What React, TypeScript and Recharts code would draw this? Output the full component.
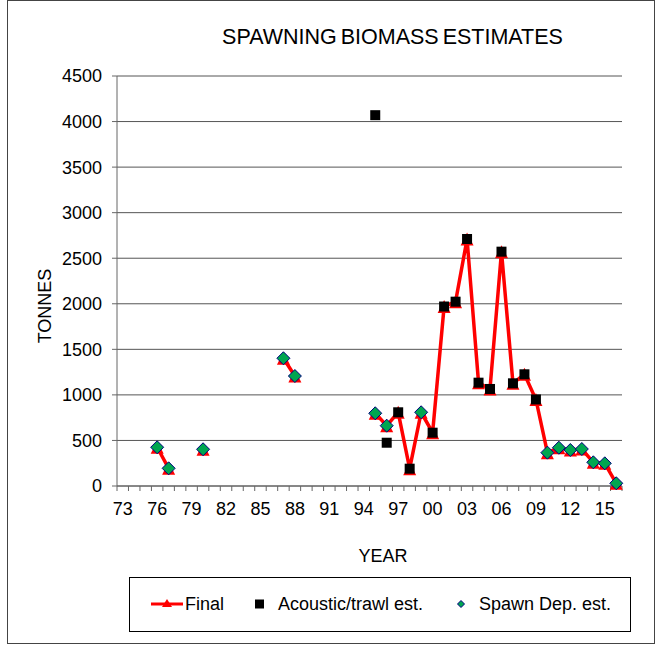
import React from 'react';
import { ComposedChart, Line, XAxis, YAxis, CartesianGrid } from 'recharts';

// years on the category axis
const FIRST_YEAR = 1973;
const LAST_YEAR = 2016;
const LABEL_YEARS = [1973, 1976, 1979, 1982, 1985, 1988, 1991, 1994, 1997, 2000, 2003, 2006, 2009, 2012, 2015];
const Y_TICKS = [0, 500, 1000, 1500, 2000, 2500, 3000, 3500, 4000, 4500];

const FINAL_YEARS = [1976, 1977, 1980, 1987, 1988, 1995, 1996, 1997, 1998, 1999, 2000, 2001, 2002, 2003, 2004, 2005, 2006, 2007, 2008, 2009, 2010, 2011, 2012, 2013, 2014, 2015, 2016];
const FINAL_VALUES = [425, 194, 403, 1402, 1207, 798, 662, 809, 190, 809, 585, 1970, 2023, 2711, 1134, 1065, 2572, 1127, 1226, 950, 366, 420, 395, 406, 260, 249, 30];

const ACOUSTIC_YEARS = [1995, 1996, 1997, 1998, 2000, 2001, 2002, 2003, 2004, 2005, 2006, 2007, 2008, 2009];
const ACOUSTIC_VALUES = [4070, 475, 809, 190, 585, 1970, 2023, 2711, 1134, 1065, 2572, 1127, 1226, 950];

const SPAWN_YEARS = [1976, 1977, 1980, 1987, 1988, 1995, 1996, 1999, 2010, 2011, 2012, 2013, 2014, 2015, 2016];
const SPAWN_VALUES = [425, 194, 403, 1402, 1207, 798, 662, 809, 366, 420, 395, 406, 260, 249, 30];

const pick = (years: number[], values: number[], yr: number) => {
  const i = years.indexOf(yr);
  return i < 0 ? null : values[i];
};

const data: any[] = [];
for (let yr = FIRST_YEAR; yr <= LAST_YEAR; yr++) {
  data.push({
    year: yr,
    final: pick(FINAL_YEARS, FINAL_VALUES, yr),
    acoustic: pick(ACOUSTIC_YEARS, ACOUSTIC_VALUES, yr),
    spawn: pick(SPAWN_YEARS, SPAWN_VALUES, yr),
  });
}
// tick marks sit between the categories, like Excel
const boundaryTicks: number[] = [];
for (let yr = FIRST_YEAR; yr <= LAST_YEAR + 1; yr++) boundaryTicks.push(yr - 0.5);

const W = 657;
const H = 645;
const PLOT_LEFT = 117;
const PLOT_RIGHT = 622;
const PLOT_TOP = 76;
const PLOT_BOTTOM = 486;
const X_AXIS_H = 30;
const HALF_STEP = (PLOT_RIGHT - PLOT_LEFT) / (LAST_YEAR - FIRST_YEAR + 1) / 2;

const FONT = '"Liberation Sans", Arial, sans-serif';
const GREEN = '#00a650';
const NAVY = '#000080';

const Triangle = (props: any) => {
  const { cx, cy, value, index } = props;
  if (value == null || cy == null) return <g key={'t' + index} />;
  const s = 6.5;
  return (
    <polygon
      key={'t' + index}
      points={`${cx},${cy - s} ${cx + s},${cy + s} ${cx - s},${cy + s}`}
      fill="#ff0000"
    />
  );
};

const Square = (props: any) => {
  const { cx, cy, value, index } = props;
  if (value == null || cy == null) return <g key={'s' + index} />;
  return <rect key={'s' + index} x={cx - 5} y={cy - 5} width={10} height={10} fill="#000" />;
};

const Diamond = (props: any) => {
  const { cx, cy, value, index } = props;
  if (value == null || cy == null) return <g key={'d' + index} />;
  const s = 6.5;
  return (
    <polygon
      key={'d' + index}
      points={`${cx},${cy - s} ${cx + s},${cy} ${cx},${cy + s} ${cx - s},${cy}`}
      fill={GREEN}
      stroke={NAVY}
      strokeWidth={1}
    />
  );
};

const YearTick = (props: any) => {
  const { x, y, payload } = props;
  const yr = payload.value + 0.5;
  if (!LABEL_YEARS.includes(yr)) return <g />;
  return (
    <text x={x + HALF_STEP} y={y} dy="0.71em" textAnchor="middle" fontSize={18} fontFamily={FONT} fill="#000">
      {String(yr).slice(2)}
    </text>
  );
};

const App: React.FC = () => {
  return (
    <div style={{ position: 'absolute', left: 0, top: 0, width: W, height: H, overflow: 'hidden', background: '#fff' }}>
      <div
        style={{
          position: 'absolute',
          left: 7,
          top: 0,
          width: 646,
          height: 642,
          border: '1px solid #444',
        }}
      />
      <div
        style={{
          position: 'absolute',
          left: 0,
          width: 785,
          top: 27,
          textAlign: 'center',
          fontFamily: FONT,
          fontSize: 21.5,
          lineHeight: '21px',
          wordSpacing: -2,
          color: '#000',
        }}
      >
        SPAWNING BIOMASS ESTIMATES
      </div>
      <div style={{ position: 'absolute', left: 0, top: 0 }}>
        <ComposedChart
          width={W}
          height={H}
          data={data}
          margin={{ top: PLOT_TOP, right: W - PLOT_RIGHT, left: 0, bottom: H - PLOT_BOTTOM - X_AXIS_H }}
        >
          <CartesianGrid vertical={false} stroke="#555" />
          <XAxis
            dataKey="year"
            type="number"
            domain={[FIRST_YEAR - 0.5, LAST_YEAR + 0.5]}
            ticks={boundaryTicks}
            interval={0}
            height={X_AXIS_H}
            tickSize={5}
            tickMargin={11}
            stroke="#666"
            tick={<YearTick />}
            label={{
              content: () => (
                <text x={383} y={556} dy="0.35em" textAnchor="middle" fontSize={18} fontFamily={FONT} fill="#000">
                  YEAR
                </text>
              ),
            }}
          />
          <YAxis
            width={PLOT_LEFT}
            domain={[0, 4500]}
            ticks={Y_TICKS}
            interval={0}
            tickSize={5}
            tickMargin={10}
            stroke="#666"
            tick={{ fontSize: 18, fontFamily: FONT, fill: '#000' }}
            label={{
              content: () => (
                <text
                  x={45}
                  y={306}
                  dy="0.35em"
                  textAnchor="middle"
                  transform="rotate(-90 45 306)"
                  fontSize={18}
                  fontFamily={FONT}
                  fill="#000"
                >
                  TONNES
                </text>
              ),
            }}
          />
          <Line
            dataKey="final"
            stroke="#ff0000"
            strokeWidth={3.5}
            dot={Triangle}
            activeDot={false}
            connectNulls={false}
            isAnimationActive={false}
          />
          <Line
            dataKey="acoustic"
            stroke="none"
            dot={Square}
            activeDot={false}
            connectNulls={false}
            isAnimationActive={false}
          />
          <Line
            dataKey="spawn"
            stroke="none"
            dot={Diamond}
            activeDot={false}
            connectNulls={false}
            isAnimationActive={false}
          />
        </ComposedChart>
      </div>
      <div
        style={{
          position: 'absolute',
          left: 129,
          top: 577,
          width: 500,
          height: 53,
          border: '1px solid #000',
          fontFamily: FONT,
          fontSize: 18,
          color: '#000',
        }}
      >
        <svg width={500} height={53} style={{ position: 'absolute', left: 0, top: 0 }}>
          <line x1={21} x2={53} y1={26} y2={26} stroke="#ff0000" strokeWidth={3} />
          <polygon points="37,21 42,29 32,29" fill="#ff0000" />
          <text x={55} y={26} dy="0.35em" fontSize={18} fontFamily={FONT}>Final</text>
          <rect x={125} y={21.5} width={9} height={9} fill="#000" />
          <text x={148} y={26} dy="0.35em" fontSize={18} fontFamily={FONT}>Acoustic/trawl est.</text>
          <polygon points="331,22.5 334.5,26 331,29.5 327.5,26" fill={GREEN} stroke={NAVY} strokeWidth={1} />
          <text x={349} y={26} dy="0.35em" fontSize={18} fontFamily={FONT}>Spawn Dep. est.</text>
        </svg>
      </div>
    </div>
  );
};

export default App;
